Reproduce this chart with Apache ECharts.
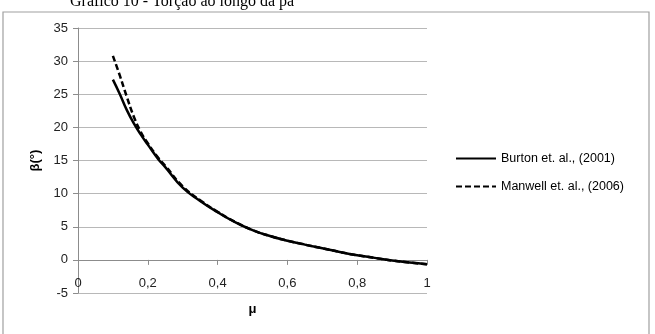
<!DOCTYPE html>
<html lang="pt">
<head>
    <meta charset="UTF-8">
    <title>Torção ao longo da pá</title>
    <script src="https://cdn.jsdelivr.net/npm/echarts@6/dist/echarts.min.js"></script>
</head>
<style>
    *{
        margin: 0;
        padding: 0;
    }
    html, body{
        width: 655px;
        height: 334px;
        background: #fff;
    }
    .container{
        width: 655px;
        height: 334px;
    }
</style>
<body>
<div class="container"></div>
<script>
    // valores
    const mu = [0.10, 0.12, 0.14, 0.16, 0.18, 0.20, 0.23, 0.25, 0.30, 0.35, 0.40, 0.45,
                0.50, 0.55, 0.60, 0.65, 0.70, 0.75, 0.80, 0.85, 0.90, 0.95, 1.00];
    const burton = [27.2, 25.0, 22.6, 20.6, 18.9, 17.4, 15.2, 14.0, 10.9, 8.9, 7.2, 5.7,
                    4.5, 3.6, 2.9, 2.3, 1.75, 1.2, 0.7, 0.3, -0.1, -0.4, -0.65];
    const manwell = [30.8, 27.8, 24.6, 21.6, 19.3, 17.6, 15.4, 14.2, 11.1, 9.0, 7.25, 5.75,
                     4.5, 3.6, 2.9, 2.3, 1.75, 1.2, 0.7, 0.3, -0.1, -0.4, -0.65];
    const seriesNames = ['Burton et. al., (2001)', 'Manwell et. al., (2006)'];
    const xTicks = [0, 0.2, 0.4, 0.6, 0.8, 1];

    const font = 'Liberation Sans';

    let container = document.querySelector('.container');
    let mycharts = echarts.init(container);

    let pairs = (ys) => mu.map((m, i) => [m, ys[i]]);

    let options = {
        animation: false,
        backgroundColor: '#fff',
        graphic: [
            {
                type: 'rect',
                shape: {x: 3, y: 12, width: 646, height: 330},
                style: {fill: 'none', stroke: '#a0a0a0', lineWidth: 1.2}
            },
            {
                type: 'text',
                left: 70,
                top: -6,
                style: {
                    text: 'Gráfico 10 - Torção ao longo da pá',
                    font: '16px "Liberation Serif"',
                    fill: '#000'
                }
            }
        ],
        grid: {
            left: 78,
            right: 228,
            top: 28,
            bottom: 41,
            outerBoundsMode: 'none'
        },
        legend: {
            data: seriesNames,
            orient: 'vertical',
            left: 450,
            top: 147,
            itemWidth: 40,
            itemHeight: 14,
            itemGap: 15,
            itemStyle: {opacity: 0},
            textStyle: {
                fontFamily: font,
                fontSize: 12.5,
                color: '#000'
            }
        },
        xAxis: {
            type: 'value',
            min: 0,
            max: 1,
            interval: 0.2,
            name: 'μ',
            nameLocation: 'middle',
            nameGap: 10,
            nameTextStyle: {
                fontFamily: font,
                fontSize: 13,
                fontWeight: 'bold',
                color: '#000'
            },
            axisLine: {
                onZero: true,
                lineStyle: {color: '#8c8c8c', width: 1}
            },
            axisTick: {
                show: true,
                length: 5,
                lineStyle: {color: '#8c8c8c'}
            },
            axisLabel: {
                margin: -16,
                fontFamily: font,
                fontSize: 13,
                color: '#222',
                formatter: v => xTicks.includes(+v.toFixed(1)) ? String(+v.toFixed(1)).replace('.', ',') : ''
            },
            splitLine: {show: false}
        },
        yAxis: {
            type: 'value',
            min: -5,
            max: 35,
            interval: 5,
            name: 'β(°)',
            nameLocation: 'middle',
            nameGap: 36,
            nameTextStyle: {
                fontFamily: font,
                fontSize: 13,
                fontWeight: 'bold',
                color: '#000'
            },
            axisLine: {
                show: true,
                lineStyle: {color: '#8c8c8c', width: 1}
            },
            axisTick: {
                show: true,
                length: 5,
                lineStyle: {color: '#8c8c8c'}
            },
            axisLabel: {
                margin: 10,
                fontFamily: font,
                fontSize: 13,
                color: '#222'
            },
            splitLine: {
                lineStyle: {color: '#b8b8b8', width: 1}
            }
        },
        series: [
            {
                name: seriesNames[0],
                type: 'line',
                data: pairs(burton),
                smooth: true,
                showSymbol: false,
                symbol: 'none',
                itemStyle: {color: '#000'},
                lineStyle: {color: '#000', width: 2.5}
            },
            {
                name: seriesNames[1],
                type: 'line',
                data: pairs(manwell),
                smooth: true,
                showSymbol: false,
                symbol: 'none',
                itemStyle: {color: '#000'},
                lineStyle: {color: '#000', width: 2.5, type: [6, 3]}
            }
        ]
    };

    mycharts.setOption(options);
</script>
</body>
</html>
